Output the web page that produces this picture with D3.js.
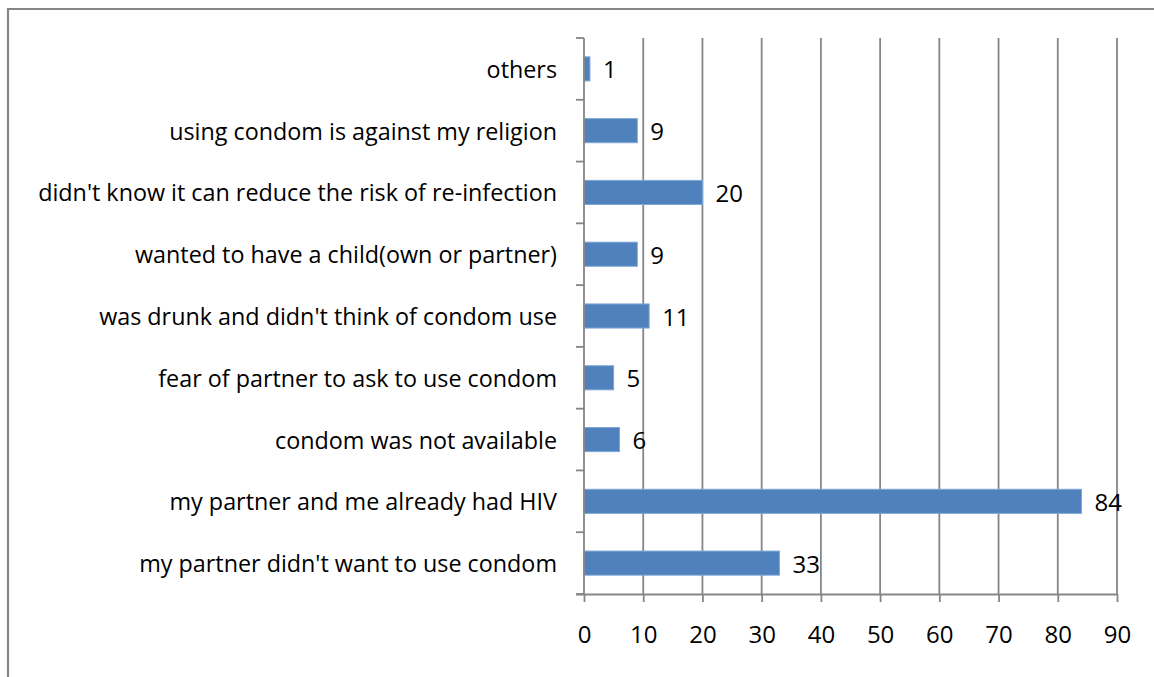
<!DOCTYPE html>
<html><head><meta charset="utf-8">
<script src="https://cdn.jsdelivr.net/npm/d3@7"></script>
<style>html,body{margin:0;padding:0;background:#fff;}svg{display:block;}</style>
</head><body>
<svg id="chart" width="1154" height="677"></svg>
<script>
const categories = [
  "others",
  "using condom is against my religion",
  "didn't know it can reduce the risk of re-infection",
  "wanted to have a child(own or partner)",
  "was drunk and didn't think of condom use",
  "fear of partner to ask to use condom",
  "condom was not available",
  "my partner and me already had HIV",
  "my partner didn't want to use condom"
];
const values = [1, 9, 20, 9, 11, 5, 6, 84, 33];
const tickValues = [0, 10, 20, 30, 40, 50, 60, 70, 80, 90];

const svg = d3.select("#chart");
const font = "'Open Sans', sans-serif";
const gray = "#868686";
const numSize = 24;

// chart border (cropped on right/bottom)
svg.append("path").attr("d", "M8,1000 L8,9 L1200,9")
  .attr("fill", "none").attr("stroke", gray).attr("stroke-width", 2.2);

const x = d3.scaleLinear().domain([0, 90]).range([584, 1117]);
const y = d3.scaleBand().domain(categories).range([38, 594]).paddingInner(0.61).paddingOuter(0.305);
const band = d3.scaleBand().domain(categories).range([38, 594]);

// gridlines
svg.append("g").selectAll("line").data(tickValues.slice(1)).join("line")
  .attr("x1", d => x(d)).attr("x2", d => x(d))
  .attr("y1", 38).attr("y2", 594)
  .attr("stroke", gray).attr("stroke-width", 1.8);

// bars
svg.append("g").selectAll("rect").data(values).join("rect")
  .attr("x", x(0)).attr("y", (d, i) => y(categories[i]))
  .attr("width", d => x(d) - x(0)).attr("height", y.bandwidth())
  .attr("fill", "#4F81BD").attr("stroke", "#7EA6D6").attr("stroke-width", 1);

// bottom axis
const xAxis = d3.axisBottom(x).tickValues(tickValues).tickSize(8).tickPadding(24).tickSizeOuter(0);
const gx = svg.append("g").attr("transform", "translate(0,594)").call(xAxis);
gx.select(".domain").attr("stroke", gray).attr("stroke-width", 1.8).attr("d", "M576,0.5H1117");
gx.selectAll(".tick line").attr("stroke", gray).attr("stroke-width", 1.8);
gx.selectAll(".tick text").attr("fill", "#000").attr("font-family", font).attr("font-size", numSize);

// left axis
const yTicksG = svg.append("g");
const boundaries = categories.map(c => band(c)).concat([594]);
yTicksG.append("line").attr("x1", x(0)).attr("x2", x(0)).attr("y1", 38).attr("y2", 594)
  .attr("stroke", gray).attr("stroke-width", 1.8);
yTicksG.selectAll("line.t").data(boundaries).join("line").attr("class", "t")
  .attr("x1", 576).attr("x2", x(0)).attr("y1", d => d).attr("y2", d => d)
  .attr("stroke", gray).attr("stroke-width", 1.8);

// category labels
const labels = svg.append("g").selectAll("text").data(categories).join("text")
  .attr("x", 557).attr("y", d => band(d) + band.bandwidth() / 2)
  .attr("text-anchor", "end").attr("dominant-baseline", "central")
  .attr("font-family", font).attr("font-size", 21).attr("fill", "#000")
  .text(d => d);
// fit font size so longest label spans like reference
let maxW = 0;
labels.each(function () { maxW = Math.max(maxW, this.getComputedTextLength()); });
const fs = 21 * 519 / maxW;
labels.attr("font-size", fs);

// value labels
svg.append("g").selectAll("text").data(values).join("text")
  .attr("x", d => x(d) + 13).attr("y", (d, i) => band(categories[i]) + band.bandwidth() / 2)
  .attr("dominant-baseline", "central")
  .attr("font-family", font).attr("font-size", numSize).attr("fill", "#000")
  .text(d => d);
</script>
</body></html>
